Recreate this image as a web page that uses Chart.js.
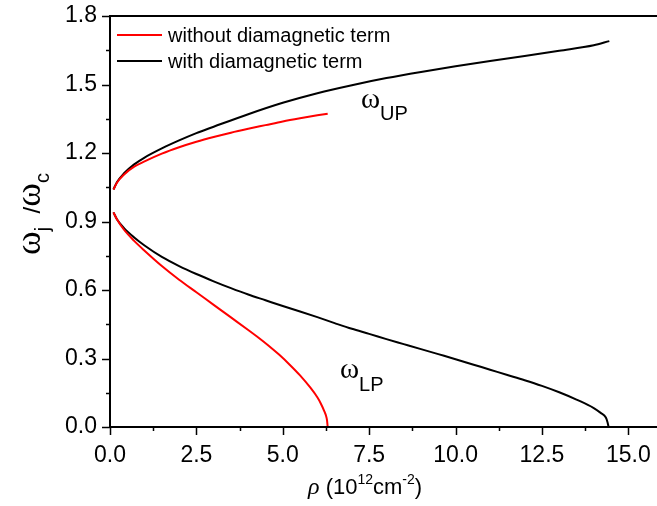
<!DOCTYPE html>
<html>
<head>
<meta charset="utf-8">
<script src="https://cdn.jsdelivr.net/npm/chart.js@4/dist/chart.umd.min.js"></script>
<style>
  html,body{margin:0;padding:0;background:#fff;}
  #wrap{width:657px;height:506px;}
</style>
</head>
<body>
<div id="wrap"><canvas id="c" width="657" height="506"></canvas></div>
<script>
// --- data (rho in 1e12 cm^-2, omega_j / omega_c)
const xTicks = [0, 2.5, 5, 7.5, 10, 12.5, 15];
const yTicks = [0, 0.3, 0.6, 0.9, 1.2, 1.5, 1.8];

// with diamagnetic term (black)
const upWithX  = [0.1, 0.2, 0.4, 0.7, 1.0, 1.5, 2.0, 2.5, 3.0, 4.0, 5.0, 6.0, 7.0, 8.0, 9.0, 10.0, 11.0, 12.0, 13.0, 14.0, 14.45];
const upWithY  = [1.04, 1.072, 1.11, 1.15, 1.18, 1.22, 1.255, 1.287, 1.315, 1.37, 1.42, 1.462, 1.497, 1.528, 1.555, 1.58, 1.603, 1.625, 1.648, 1.672, 1.69];
const lowWithX = [0.1, 0.2, 0.4, 0.7, 1.0, 1.5, 2.0, 2.5, 3.0, 3.5, 4.0, 4.5, 5.0, 5.5, 6.0, 6.5, 7.0, 7.5, 8.0, 8.5, 9.0, 9.5, 10.0, 10.5, 11.0, 11.5, 12.0, 12.5, 13.0, 13.5, 14.0, 14.2, 14.35, 14.4, 14.43];
const lowWithY = [0.94, 0.91, 0.872, 0.83, 0.795, 0.745, 0.705, 0.67, 0.638, 0.608, 0.58, 0.555, 0.53, 0.506, 0.481, 0.455, 0.43, 0.408, 0.385, 0.363, 0.341, 0.319, 0.297, 0.274, 0.251, 0.228, 0.205, 0.18, 0.152, 0.12, 0.083, 0.062, 0.042, 0.02, 0.0];

// without diamagnetic term (red)
const upNoX  = [0.1, 0.2, 0.4, 0.7, 1.0, 1.5, 2.0, 2.5, 3.0, 3.5, 4.0, 4.5, 5.0, 5.5, 6.0, 6.3];
const upNoY  = [1.04, 1.07, 1.105, 1.14, 1.163, 1.197, 1.225, 1.249, 1.27, 1.289, 1.306, 1.322, 1.338, 1.352, 1.365, 1.372];
const lowNoX = [0.1, 0.2, 0.4, 0.7, 1.0, 1.5, 2.0, 2.5, 3.0, 3.5, 4.0, 4.3, 4.6, 4.9, 5.2, 5.5, 5.8, 6.0, 6.1, 6.2, 6.25, 6.28, 6.3];
const lowNoY = [0.94, 0.91, 0.865, 0.815, 0.772, 0.705, 0.645, 0.59, 0.535, 0.48, 0.425, 0.391, 0.355, 0.316, 0.273, 0.226, 0.172, 0.13, 0.103, 0.07, 0.05, 0.03, 0.0];

const RED = '#ff0000', BLACK = '#000000';
const SANS = '"Liberation Sans", Arial, sans-serif';
const SERIF = '"Liberation Serif", "Times New Roman", serif';

function pts(xs, ys){ return xs.map((x,i)=>({x, y: ys[i]})); }
function line(data, color){
  return { data, borderColor: color, backgroundColor: color, borderWidth: 2,
           showLine: true, pointRadius: 0, cubicInterpolationMode: 'monotone' };
}

// draw a run of text pieces (font, baseline shift) starting at x
function rich(ctx, parts, x, y){
  parts.forEach(p=>{
    ctx.font = p.font;
    ctx.fillText(p.t, x, y + (p.dy||0));
    x += ctx.measureText(p.t).width;
  });
  return x;
}
function richWidth(ctx, parts){
  let w = 0;
  parts.forEach(p=>{ ctx.font = p.font; w += ctx.measureText(p.t).width; });
  return w;
}

const frame = {
  id: 'frame',
  afterDraw(chart){
    const {ctx, chartArea:a, scales:{x, y}} = chart;
    ctx.save();
    ctx.strokeStyle = '#000'; ctx.fillStyle = '#000';
    // axes
    ctx.lineWidth = 2;
    ctx.beginPath();
    ctx.moveTo(a.left, a.top); ctx.lineTo(a.right, a.top);
    ctx.moveTo(a.left, a.top - 1); ctx.lineTo(a.left, a.bottom);
    ctx.lineTo(a.right, a.bottom);
    ctx.stroke();
    // ticks (major + minor)
    ctx.lineWidth = 1.5;
    ctx.beginPath();
    for (let v = 0; v <= 15.8; v += 1.25){
      const px = Math.round(x.getPixelForValue(v)) + 0.5;
      const major = Math.abs(v/2.5 - Math.round(v/2.5)) < 1e-6;
      ctx.moveTo(px, a.bottom); ctx.lineTo(px, a.bottom + (major ? 8 : 4));
    }
    for (let v = 0; v <= 1.8001; v += 0.15){
      const py = Math.round(y.getPixelForValue(v)) + 0.5;
      const major = Math.abs(v/0.3 - Math.round(v/0.3)) < 1e-6;
      ctx.moveTo(a.left, py); ctx.lineTo(a.left - (major ? 8 : 4), py);
    }
    ctx.stroke();

    // legend
    ctx.lineWidth = 2;
    [[RED, 35, 'without diamagnetic term'], [BLACK, 61, 'with diamagnetic term']].forEach(([c, ly, t])=>{
      ctx.strokeStyle = c;
      ctx.beginPath(); ctx.moveTo(117, ly); ctx.lineTo(162, ly); ctx.stroke();
      ctx.font = '20px ' + SANS; ctx.textBaseline = 'alphabetic';
      ctx.fillText(t, 168, ly + 7);
    });

    // branch labels
    rich(ctx, [{t:'\u03C9', font:'29px '+SERIF}, {t:'UP', font:'20px '+SANS, dy:12}], 361, 108);
    rich(ctx, [{t:'\u03C9', font:'29px '+SERIF}, {t:'LP', font:'20px '+SANS, dy:13}], 340, 378);

    // x title
    rich(ctx, [
      {t:'\u03C1', font:'italic 24px '+SERIF},
      {t:' (10', font:'22px '+SANS},
      {t:'12', font:'14px '+SANS, dy:-10},
      {t:'cm', font:'22px '+SANS},
      {t:'-2', font:'14px '+SANS, dy:-10},
      {t:')', font:'22px '+SANS}
    ], 308, 494);

    // y title, rotated
    const yParts = [
      {t:'\u03C9', font:'36px '+SERIF},
      {t:'j', font:'20px '+SANS, dy:9},
      {t:'  /', font:'24px '+SANS},
      {t:'\u03C9', font:'36px '+SERIF},
      {t:'c', font:'20px '+SANS, dy:9}
    ];
    ctx.translate(40, 214);
    ctx.rotate(-Math.PI/2);
    rich(ctx, yParts, -richWidth(ctx, yParts)/2, 0);
    ctx.restore();
  }
};

new Chart(document.getElementById('c'), {
  type: 'scatter',
  data: {
    datasets: [
      line(pts(upNoX, upNoY), RED),
      line(pts(lowNoX, lowNoY), RED),
      line(pts(upWithX, upWithY), BLACK),
      line(pts(lowWithX, lowWithY), BLACK)
    ]
  },
  options: {
    responsive: false, animation: false,
    layout: { padding: { top: 16, right: 0, left: 0, bottom: 0 } },
    plugins: { legend: { display: false }, tooltip: { enabled: false } },
    scales: {
      x: {
        type: 'linear', min: 0, max: 15.83,
        afterBuildTicks: s => { s.ticks = xTicks.map(v=>({value: v})); },
        afterFit: s => { s.height = 79; s.paddingLeft = 0; s.paddingRight = 0; },
        grid: { display: false, drawTicks: false }, border: { display: false },
        ticks: { padding: 15, color: '#000', font: { family: SANS, size: 23 },
                 callback: v => v.toFixed(1) }
      },
      y: {
        type: 'linear', min: 0, max: 1.8,
        afterBuildTicks: s => { s.ticks = yTicks.map(v=>({value: v})); },
        afterFit: s => { s.width = 110; s.paddingTop = 0; s.paddingBottom = 0; },
        grid: { display: false, drawTicks: false }, border: { display: false },
        ticks: { padding: 13, color: '#000', font: { family: SANS, size: 23 },
                 callback: v => v.toFixed(1) }
      }
    }
  },
  plugins: [frame]
});
</script>
</body>
</html>
